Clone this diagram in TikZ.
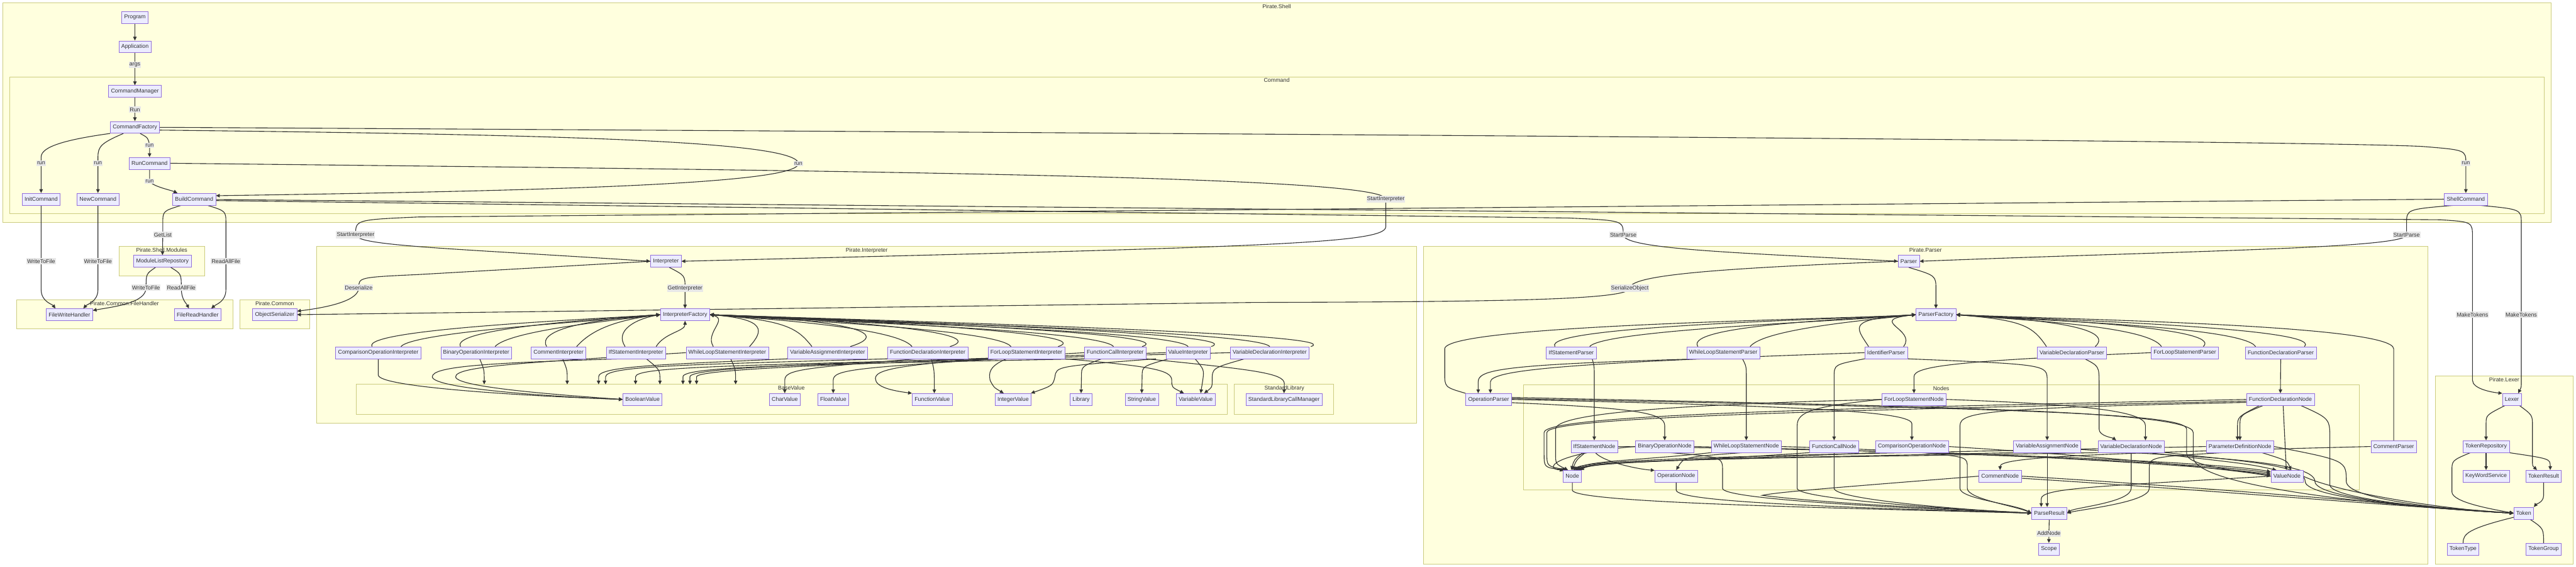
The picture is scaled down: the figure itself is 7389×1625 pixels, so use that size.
\documentclass[tikz,border=0pt]{standalone}
\usepackage{fontspec}
\setmainfont{Liberation Sans}
\usetikzlibrary{arrows.meta,calc}
\definecolor{nodef}{HTML}{ECECFF}
\definecolor{nodeb}{HTML}{9370DB}
\definecolor{clf}{HTML}{FFFFDE}
\definecolor{clb}{HTML}{CCCC80}
\definecolor{edgec}{HTML}{333333}
\definecolor{lblbg}{HTML}{E8E8E8}
\definecolor{txt}{HTML}{333333}
\pgfdeclarelayer{bg}
\pgfdeclarelayer{edges}
\pgfsetlayers{bg,edges,main}
\begin{document}
\begin{tikzpicture}[x=0.5pt,y=-0.5pt,
  nd/.style={draw=nodeb,fill=nodef,line width=0.6pt,inner xsep=3.5pt,inner ysep=0pt,minimum height=17pt,text=txt,font=\fontsize{8}{9.6}\selectfont},
  cl/.style={draw=clb,fill=clf,line width=0.8pt},
  ttl/.style={text=txt,font=\fontsize{8}{9.6}\selectfont,inner sep=0pt,anchor=north},
  e/.style={draw=edgec,line width=1pt,-{Triangle[length=5.5pt,width=5pt]}},
  ln/.style={draw=edgec,line width=1pt},
  lbl/.style={fill=lblbg,inner xsep=1pt,inner ysep=1.5pt,text=txt,font=\fontsize{8}{9.6}\selectfont}]

\begin{pgfonlayer}{bg}
\path[use as bounding box,fill=white] (0,0) rectangle (7389,1625);
\draw[cl] (8,8) rectangle (7317,638);
\draw[cl] (28,220) rectangle (7297,612);
\draw[cl] (342,707) rectangle (587,791);
\draw[cl] (47,860) rectangle (668,943);
\draw[cl] (688,860) rectangle (889,943);
\draw[cl] (909,707) rectangle (4063,1213);
\draw[cl] (1021,1102) rectangle (3520,1187);
\draw[cl] (3541,1102) rectangle (3826,1187);
\draw[cl] (4083,707) rectangle (6964,1617);
\draw[cl] (4370,1103) rectangle (6767,1405);
\draw[cl] (6985,1078) rectangle (7381,1617);
\end{pgfonlayer}

% cluster titles
\node[ttl] (tShell) at (3662,12) {Pirate.Shell};
\node[ttl] (tCommand) at (3662,224) {Command};
\node[ttl] (tModules) at (464,711) {Pirate.Shell.Modules};
\node[ttl] (tFileH) at (357,864) {Pirate.Common.FileHandler};
\node[ttl] (tCommon) at (788,864) {Pirate.Common};
\node[ttl] (tInterp) at (2486,711) {Pirate.Interpreter};
\node[ttl] (tBaseV) at (2270,1106) {BaseValue};
\node[ttl] (tStdLib) at (3684,1106) {StandardLibrary};
\node[ttl] (tParser) at (5523,711) {Pirate.Parser};
\node[ttl] (tNodes) at (5568,1107) {Nodes};
\node[ttl] (tLexer) at (7183,1082) {Pirate.Lexer};

% Shell nodes
\node[nd] (program) at (387,50) {Program};
\node[nd] (application) at (387,134) {Application};
\node[nd] (cmdmanager) at (387,262) {CommandManager};
\node[nd] (cmdfactory) at (387,365) {CommandFactory};
\node[nd] (runcmd) at (429,468) {RunCommand};
\node[nd] (initcmd) at (118,571) {InitCommand};
\node[nd] (newcmd) at (281,571) {NewCommand};
\node[nd] (buildcmd) at (557,571) {BuildCommand};
\node[nd] (shellcmd) at (7073,571) {ShellCommand};
\node[nd] (modulelist) at (466,749) {ModuleListRepostory};
\node[nd] (filewrite) at (199,902) {FileWriteHandler};
\node[nd] (fileread) at (567,902) {FileReadHandler};
\node[nd] (objser) at (788,902) {ObjectSerializer};

% Interpreter nodes
\node[nd] (interp) at (1910,749) {Interpreter};
\node[nd] (interpfac) at (1965,902) {InterpreterFactory};
\node[nd] (cmpI) at (1085,1011) {ComparisonOperationInterpreter};
\node[nd] (binI) at (1366,1011) {BinaryOperationInterpreter};
\node[nd] (comI) at (1602,1011) {CommentInterpreter};
\node[nd] (ifI) at (1824,1011) {IfStatementInterpreter};
\node[nd] (whileI) at (2086,1011) {WhileLoopStatementInterpreter};
\node[nd] (vasgI) at (2374,1011) {VariableAssignmentInterpreter};
\node[nd] (fdeclI) at (2661,1011) {FunctionDeclarationInterpreter};
\node[nd] (forI) at (2944,1011) {ForLoopStatementInterpreter};
\node[nd] (fcallI) at (3199,1011) {FunctionCallInterpreter};
\node[nd] (valI) at (3408,1011) {ValueInterpreter};
\node[nd] (vdeclI) at (3642,1011) {VariableDeclarationInterpreter};
\node[nd] (boolV) at (1843,1145) {BooleanValue};
\node[nd] (charV) at (2251,1145) {CharValue};
\node[nd] (floatV) at (2390,1145) {FloatValue};
\node[nd] (funcV) at (2674,1145) {FunctionValue};
\node[nd] (intV) at (2906,1145) {IntegerValue};
\node[nd] (lib) at (3101,1145) {Library};
\node[nd] (strV) at (3275,1145) {StringValue};
\node[nd] (varV) at (3430,1145) {VariableValue};
\node[nd] (stdlib) at (3683,1145) {StandardLibraryCallManager};

% Parser nodes
\node[nd] (parser) at (5475,749) {Parser};
\node[nd] (parserfac) at (5553,902) {ParserFactory};
\node[nd] (ifP) at (4507,1011) {IfStatementParser};
\node[nd] (whileP) at (4943,1011) {WhileLoopStatementParser};
\node[nd] (identP) at (5410,1011) {IdentifierParser};
\node[nd] (vdeclP) at (5943,1011) {VariableDeclarationParser};
\node[nd] (forP) at (6267,1011) {ForLoopStatementParser};
\node[nd] (fdeclP) at (6542,1011) {FunctionDeclarationParser};
\node[nd] (opP) at (4270,1145) {OperationParser};
\node[nd] (forN) at (5490,1145) {ForLoopStatementNode};
\node[nd] (fdeclN) at (6541,1145) {FunctionDeclarationNode};
\node[nd] (ifN) at (4573,1280) {IfStatementNode};
\node[nd] (binN) at (4775,1280) {BinaryOperationNode};
\node[nd] (whileN) at (5009,1280) {WhileLoopStatementNode};
\node[nd] (fcallN) at (5261,1280) {FunctionCallNode};
\node[nd] (cmpN) at (5484,1280) {ComparisonOperationNode};
\node[nd] (vasgN) at (5872,1280) {VariableAssignmentNode};
\node[nd] (vdeclN) at (6113,1280) {VariableDeclarationNode};
\node[nd] (paramN) at (6425,1280) {ParameterDefinitionNode};
\node[nd] (commentP) at (6866,1280) {CommentParser};
\node[nd] (nodeN) at (4510,1365) {Node};
\node[nd] (opN) at (4808,1365) {OperationNode};
\node[nd] (commentN) at (5737,1365) {CommentNode};
\node[nd] (valueN) at (6560,1365) {ValueNode};
\node[nd] (parseres) at (5878,1471) {ParseResult};
\node[nd] (scope) at (5877,1574) {Scope};

% Lexer nodes
\node[nd] (lexer) at (7205,1145) {Lexer};
\node[nd] (tokenrepo) at (7131,1280) {TokenRepository};
\node[nd] (keyword) at (7131,1365) {KeyWordService};
\node[nd] (tokenresult) at (7296,1365) {TokenResult};
\node[nd] (token) at (7239,1471) {Token};
\node[nd] (tokentype) at (7065,1574) {TokenType};
\node[nd] (tokengroup) at (7296,1574) {TokenGroup};

% free ends on the BaseValue cluster
\coordinate (bv1) at (1389,1102);
\coordinate (bv2) at (1627,1102);
\coordinate (bv3) at (1717,1102);
\coordinate (bv4) at (1737,1102);
\coordinate (bv5) at (1823,1102);
\coordinate (bv6) at (1893,1102);
\coordinate (bv7) at (1959,1102);
\coordinate (bv8) at (1979,1102);
\coordinate (bv9) at (1998,1102);
\coordinate (bv10) at (2110,1102);

\begin{pgfonlayer}{edges}
% ---------- interpreter factory fan ----------
\foreach \n/\l/\r in {cmpI/-18/65, binI/-45/54, comI/-34/52}{
  \draw[e] ($(\n.north)+(\l,0)$) .. controls +(-30,-50) and (1700,915) .. (interpfac.west);
  \draw[e] ($(\n.north)+(\r,0)$) .. controls +(40,-45) and (1760,918) .. (interpfac.west);
}
\draw[e] ($(ifI.north)+(-31,0)$) .. controls +(-30,-45) and (1820,915) .. (interpfac.west);
\draw[e] ($(ifI.north)+(58,0)$) .. controls +(25,-40) and (1965,950) .. (interpfac.south);
\draw[e] ($(whileI.north)+(-40,0)$) .. controls +(-25,-40) and (2090,915) .. (interpfac.east);
\draw[e] ($(whileI.north)+(64,0)$) .. controls +(40,-45) and (2200,915) .. (interpfac.east);
\foreach \n/\l/\r in {vasgI/-45/65, fdeclI/-45/64, forI/-44/91, fcallI/-5/77, valI/0/66, vdeclI/0/118}{
  \draw[e] ($(\n.north)+(\l,0)$) .. controls +(-40,-50) and (2260,918) .. (interpfac.east);
  \draw[e] ($(\n.north)+(\r,0)$) .. controls +(130,-40) and +(380,14) .. (interpfac.east);
}
% ---------- interpreters to values ----------
\draw[e] (cmpI.south) -- (1085,1075) .. controls (1085,1110) and (1500,1135) .. (boolV.west);
\draw[e] ($(ifI.south)+(-40,0)$) .. controls (1400,1040) and (1240,1050) .. (1240,1080) .. controls (1240,1115) and (1600,1138) .. (boolV.west);
\draw[e] (whileI.west) .. controls (1500,1040) and (1307,1050) .. (1307,1080) .. controls (1307,1110) and (1600,1132) .. (boolV.west);
\draw[e] ($(binI.south)+(10,0)$) .. controls (1389,1060) .. (bv1);
\draw[e] ($(comI.south)+(12,0)$) .. controls (1627,1060) .. (bv2);
\draw[e] (vasgI.south west) .. controls (1900,1045) and (1717,1050) .. (1717,1080) -- (bv3);
\draw[e] (fdeclI.south west) .. controls (2000,1045) and (1737,1048) .. (1737,1080) -- (bv4);
\draw[e] (forI.south west) .. controls (2100,1048) and (1823,1052) .. (1823,1080) -- (bv5);
\draw[e] ($(ifI.south)+(30,0)$) .. controls (1893,1060) .. (bv6);
\draw[e] (fcallI.south west) .. controls (2300,1045) and (1959,1050) .. (1959,1080) -- (bv7);
\draw[e] (valI.west) .. controls (2400,1040) and (1979,1052) .. (1979,1080) -- (bv8);
\draw[e] (vdeclI.west) .. controls (2600,1035) and (1998,1055) .. (1998,1080) -- (bv9);
\draw[e] ($(whileI.south)+(10,0)$) .. controls (2110,1060) .. (bv10);
\draw[e] ($(fdeclI.south)+(-30,0)$) .. controls (2300,1055) and (2251,1060) .. (2251,1090) -- (charV.north);
\draw[e] ($(forI.south)+(-80,0)$) .. controls (2450,1055) and (2390,1060) .. (2390,1090) -- (floatV.north);
\draw[e] (fcallI.west) .. controls (2600,1040) and (2511,1055) .. (2511,1085) .. controls (2511,1110) and (2560,1120) .. (funcV.north west);
\draw[e] ($(fdeclI.south)+(10,0)$) .. controls (2680,1060) .. ($(funcV.north)+(6,0)$);
\draw[e] ($(forI.south)+(-57,0)$) .. controls (2836,1050) and (2836,1070) .. (2840,1090) .. controls (2850,1110) .. ($(intV.north)+(-27,0)$);
\draw[e] ($(valI.south)+(-92,0)$) .. controls (3030,1050) .. (3026,1080) .. controls (3020,1105) .. ($(intV.north)+(51,0)$);
\draw[e] ($(fcallI.south)+(-39,0)$) .. controls (3102,1050) .. (3102,1080) -- (lib.north);
\draw[e] ($(valI.south)+(-56,0)$) .. controls (3276,1050) .. (3276,1080) -- (strV.north);
\draw[e] ($(valI.south)+(20,0)$) .. controls (3454,1060) .. (3450,1090) -- ($(varV.north)+(14,0)$);
\draw[e] ($(vdeclI.south)+(-72,0)$) .. controls (3477,1055) .. (3477,1090) .. controls (3477,1110) .. ($(varV.north)+(24,0)$);
\draw[e] (forI.south east) .. controls (3300,1050) and (3361,1060) .. (3361,1090) .. controls (3361,1110) .. ($(varV.north)+(-34,0)$);
\draw[e] (fcallI.south east) .. controls (3600,1060) and (3684,1070) .. (3684,1100) -- (stdlib.north);

% ---------- parser factory fan ----------
\foreach \n/\l/\r in {ifP/-47/53, whileP/-73/77, identP/-50/50}{
  \draw[e] ($(\n.north)+(\l,0)$) .. controls +(-40,-60) and (5300,915) .. (parserfac.west);
  \draw[e] ($(\n.north)+(\r,0)$) .. controls +(40,-50) and (5350,918) .. (parserfac.west);
}
\foreach \n/\l/\r in {vdeclP/-73/67, forP/-67/53, fdeclP/-72/68}{
  \draw[e] ($(\n.north)+(\l,0)$) .. controls +(-40,-60) and (5800,918) .. (parserfac.east);
  \draw[e] ($(\n.north)+(\r,0)$) .. controls +(60,-55) and (5850,915) .. (parserfac.east);
}
\draw[e] (opP.north west) .. controls (4144,1110) .. (4144,1070) -- (4144,1000) .. controls (4144,930) and (5300,915) .. (parserfac.west);
\draw[e] (commentP.north) -- (6866,1000) .. controls (6866,930) and (5900,915) .. (parserfac.east);
% ---------- parsers to nodes ----------
\draw[e] ($(whileP.south)+(-65,0)$) .. controls (4300,1045) and (4240,1060) .. (4240,1095) -- ($(opP.north)+(-30,0)$);
\draw[e] (identP.west) .. controls (4500,1040) and (4275,1060) .. (4275,1095) -- ($(opP.north)+(5,0)$);
\draw[e] ($(ifP.south)+(60,0)$) .. controls (4573,1050) .. (4573,1080) -- (ifN.north);
\draw[e] ($(whileP.south)+(55,0)$) .. controls (5009,1050) .. (5009,1080) -- (whileN.north);
\draw[e] (identP.south west) .. controls (5261,1045) .. (5261,1080) -- (fcallN.north);
\draw[e] (identP.south east) .. controls (5872,1045) .. (5872,1090) -- (vasgN.north);
\draw[e] ($(vdeclP.south)+(37,0)$) .. controls (6021,1050) .. (6021,1100) -- (6021,1230) .. controls (6021,1250) and (6060,1255) .. ($(vdeclN.north)+(-43,0)$);
\draw[e] (forN.east) .. controls (6000,1160) and (6154,1180) .. (6154,1220) -- ($(vdeclN.north)+(41,0)$);
\draw[e] (forP.west) .. controls (5600,1035) and (5490,1050) .. (5490,1080) -- (forN.north);
\draw[e] (fdeclP.south) -- (fdeclN.north);
\draw[e] (opP.-8) .. controls (4700,1170) and (4775,1185) .. (4775,1220) -- (binN.north);
\draw[e] (opP.east) .. controls (5200,1165) and (5484,1180) .. (5484,1215) -- (cmpN.north);
\draw[e] (opP.5) .. controls (5500,1165) and (6291,1175) .. (6291,1240) -- (6291,1310) .. controls (6291,1400) and (6900,1455) .. (token.west);
\draw[e] (opP.2) .. controls (5800,1172) and (6272,1185) .. (6272,1230) -- (6272,1300) .. controls (6272,1340) and (6450,1350) .. (valueN.west);
% function declaration node
\draw[e] ($(fdeclN.south)+(-50,0)$) .. controls (6425,1190) .. (6425,1220) -- (paramN.north);
\draw[e] ($(fdeclN.south)+(-60,0)$) .. controls (6418,1195) .. (6418,1225) -- ($(paramN.north)+(-7,0)$);
\draw[e] ($(fdeclN.south)+(8,0)$) -- ($(valueN.north)+(-2,0)$);
\draw[e] ($(paramN.south)+(63,0)$) .. controls (6560,1320) .. ($(valueN.north)+(12,0)$);
\draw[e] ($(fdeclN.south)+(59,0)$) .. controls (6683,1200) .. (6683,1260) -- (6683,1390) .. controls (6683,1430) and (7000,1460) .. (token.west);
\draw[e] (paramN.east) .. controls (6730,1320) .. (6730,1380) .. controls (6730,1430) and (7000,1460) .. (token.west);
\draw[e] (valueN.east) .. controls (6700,1410) and (7000,1460) .. (token.west);
\draw[e] (commentN.east) .. controls (6300,1395) and (6800,1440) .. (token.west);
\draw[e] ($(commentN.east)+(0,6)$) .. controls (6300,1402) and (6800,1446) .. (token.west);
\draw[e] (vdeclN.-10) .. controls (6400,1320) and (6612,1330) .. (6612,1380) .. controls (6612,1430) and (7000,1460) .. (token.west);
\draw[e] (vasgN.-5) .. controls (6300,1310) and (6640,1320) .. (6640,1380) .. controls (6640,1430) and (7000,1460) .. (token.west);
\draw[e] (commentP.west) .. controls (6000,1300) and (5737,1310) .. (commentN.north);
% to Node
\draw[e] (fdeclN.west) .. controls (5200,1172) and (4429,1190) .. (4429,1240) -- (4429,1300) .. controls (4429,1340) .. (nodeN.140);
\draw[e] ($(fdeclN.west)+(0,5)$) .. controls (5200,1178) and (4437,1196) .. (4437,1240) -- (4437,1300) .. controls (4437,1336) .. (nodeN.134);
\draw[e] (forN.west) .. controls (4800,1160) and (4462,1185) .. (4462,1230) -- (4462,1300) .. controls (4462,1330) .. (nodeN.125);
\draw[e] ($(ifN.south)+(-33,0)$) .. controls (4515,1318) .. (nodeN.100);
\draw[e] ($(ifN.south)+(-26,0)$) .. controls (4522,1318) .. (nodeN.90);
\draw[e] (binN.west) .. controls (4450,1300) and (4430,1345) .. (nodeN.145);
\draw[e] (whileN.south west) .. controls (4700,1320) and (4560,1320) .. (nodeN.75);
\draw[e] (fcallN.south west) .. controls (4800,1325) and (4560,1325) .. (nodeN.62);
\draw[e] (cmpN.south west) .. controls (4900,1320) and (4570,1320) .. (nodeN.52);
\draw[e] (vasgN.south west) .. controls (5000,1315) and (4580,1318) .. (nodeN.44);
\draw[e] (vdeclN.south west) .. controls (5200,1312) and (4590,1315) .. (nodeN.38);
\draw[e] (paramN.west) .. controls (5400,1300) and (4560,1310) .. (nodeN.82);
\draw[e] (ifN.-80) .. controls (4600,1325) and (4700,1345) .. (opN.165);
\draw[e] (whileN.-120) .. controls (4830,1310) .. (opN.north);
% to ValueNode
\draw[e] (ifN.east) .. controls (5800,1295) and (6400,1330) .. (valueN.165);
\draw[e] (binN.east) .. controls (5800,1300) and (6400,1335) .. (valueN.170);
\draw[e] (whileN.east) .. controls (5800,1302) and (6400,1340) .. (valueN.175);
\draw[e] (cmpN.east) .. controls (6000,1305) and (6400,1345) .. (valueN.west);
\draw[e] (vdeclN.-20) .. controls (6450,1330) .. (valueN.150);
% to ParseResult
\draw[e] (nodeN.south) -- (4510,1405) .. controls (4510,1440) and (5200,1455) .. (parseres.west);
\draw[e] (opN.south) -- (4808,1405) .. controls (4808,1440) and (5300,1455) .. (parseres.west);
\draw[e] (binN.-50) .. controls (4941,1310) .. (4941,1350) -- (4941,1400) .. controls (4941,1430) and (5400,1455) .. (parseres.west);
\draw[e] (forN.west) .. controls (5200,1165) and (5155,1180) .. (5155,1220) -- (5155,1400) .. controls (5155,1430) and (5600,1460) .. (parseres.west);
\draw[e] (fcallN.south) -- (5261,1400) .. controls (5261,1430) and (5600,1460) .. (parseres.west);
\draw[e] (fdeclN.185) .. controls (5700,1170) and (5622,1180) .. (5622,1220) -- (5622,1400) .. controls (5622,1430) and (5780,1445) .. (parseres.west);
\draw[e] (cmpN.-30) .. controls (5643,1310) .. (5643,1340) -- (5643,1400) .. controls (5643,1430) and (5780,1450) .. (parseres.west);
\draw[e] (vasgN.south) -- ($(parseres.north)+(-6,0)$);
\draw[e] (vdeclN.south) -- (6113,1400) .. controls (6113,1440) and (5950,1455) .. (parseres.east);
\draw[e] (paramN.-160) .. controls (6165,1310) .. (6165,1345) -- (6165,1400) .. controls (6165,1440) and (5970,1460) .. (parseres.east);
\draw[e] (valueN.west) .. controls (6000,1395) and (5855,1400) .. (5855,1430) -- ($(parseres.north)+(-23,0)$);
\draw[e] (commentN.west) .. controls (5300,1395) and (5100,1410) .. (5055,1420) .. controls (5300,1450) and (5700,1462) .. (parseres.west);

% ---------- lexer ----------
\draw[e] ($(lexer.south)+(-20,0)$) .. controls (7131,1190) .. (7131,1215) -- (tokenrepo.north);
\draw[e] ($(lexer.south)+(22,0)$) .. controls (7264,1190) .. (7264,1220) -- (7264,1320) .. controls (7264,1335) .. ($(tokenresult.north)+(-19,0)$);
\draw[e] (tokenrepo.south) -- (keyword.north);
\draw[e] (tokenrepo.-15) .. controls (7315,1315) .. ($(tokenresult.north)+(19,0)$);
\draw[e] ($(tokenrepo.south)+(-45,0)$) .. controls (7033,1320) .. (7033,1350) -- (7033,1410) .. controls (7033,1440) and (7150,1460) .. (token.west);
\draw[e] (tokenresult.south) -- (7296,1420) .. controls (7296,1440) and (7275,1445) .. (token.north east);
\draw[ln] ($(token.south)+(-28,-6)$) .. controls (7080,1515) and (7065,1530) .. (tokentype.north);
\draw[ln] ($(token.south)+(18,0)$) .. controls (7296,1515) .. (tokengroup.north);

% ---------- shell ----------
\draw[e] (program) -- (application);
\draw[e] (application.south) -- (387,186) node[lbl] (lArgs) {args} -- (cmdmanager.north);
\draw[e] (cmdmanager.south) -- (387,314) node[lbl] (lRun) {Run} -- (cmdfactory.north);
\draw[e] (cmdfactory.south west) .. controls (190,400) and (118,420) .. (118,450) -- (118,468) node[lbl] (lRunInit) {run} -- (initcmd.north);
\draw[e] ($(cmdfactory.south)+(-33,0)$) .. controls (290,410) and (281,420) .. (281,450) -- (281,468) node[lbl] (lRunNew) {run} -- (newcmd.north);
\draw[e] ($(cmdfactory.south)+(15,0)$) .. controls (425,395) .. (429,417) node[lbl] (lRunRun) {run} -- (runcmd.north);
\draw[e] (runcmd.south) -- (429,520) node[lbl] (lRunBuild) {run} .. controls (440,535) and (490,545) .. ($(buildcmd.north)+(-48,0)$);
\draw[e] (initcmd.south) -- (118,749) node[lbl] (lW1) {WriteToFile} -- (118,830) .. controls (118,865) and (150,872) .. ($(filewrite.north)+(-40,0)$);
\draw[e] (newcmd.south) -- (281,749) node[lbl] (lW2) {WriteToFile} -- (281,830) .. controls (281,865) and (250,872) .. ($(filewrite.north)+(40,0)$);
\draw[e] ($(modulelist.south)+(-20,0)$) .. controls (419,785) .. (419,825) node[lbl] (lW3) {WriteToFile} .. controls (419,870) and (320,880) .. ($(filewrite.east)+(0,-12)$);
\draw[e] ($(modulelist.south)+(24,0)$) .. controls (520,785) .. (520,825) node[lbl] (lR1) {ReadAllFile} .. controls (520,860) and (535,870) .. ($(fileread.north)+(-25,0)$);
\draw[e] ($(buildcmd.south)+(-37,0)$) .. controls (467,605) .. (467,640) -- (467,673) node[lbl] (lGet) {GetList} -- (modulelist.north);
\draw[e] ($(buildcmd.south)+(38,0)$) .. controls (648,605) .. (648,640) -- (648,749) node[lbl] (lR2) {ReadAllFile} -- (648,830) .. controls (648,865) and (620,872) .. ($(fileread.north)+(39,0)$);
\draw[e] (cmdfactory.east) .. controls (4000,385) and (6700,405) .. (6950,420) .. controls (7073,430) .. (7073,468) node[lbl] (lRunShell) {run} -- (shellcmd.north);
\draw[e] ($(cmdfactory.east)+(0,8)$) .. controls (1500,385) and (2290,400) .. (2290,469) node[lbl] (lRunLoop) {run} .. controls (2290,530) and (1500,548) .. ($(buildcmd.east)+(0,-10)$);
\draw[e] (runcmd.east) .. controls (2500,490) and (3975,505) .. (3975,571) node[lbl] (lSI1) {StartInterpreter} -- (3975,650) .. controls (3975,700) and (3600,708) .. (interp.east);
\draw[e] (shellcmd.west) -- (1200,622) .. controls (1020,630) .. (1020,673) node[lbl] (lSI2) {StartInterpreter} .. controls (1020,705) and (1300,712) .. (interp.west);
\draw[e] ($(buildcmd.east)+(0,4)$) -- (4500,625) .. controls (4656,632) .. (4656,673) node[lbl] (lSP1) {StartParse} .. controls (4656,715) and (5000,725) .. (parser.west);
\draw[e] ($(buildcmd.east)+(0,1)$) -- (7000,630) .. controls (7092,636) .. (7092,680) -- (7092,902) node[lbl] (lMT1) {MakeTokens} -- (7092,1090) .. controls (7092,1115) and (7150,1125) .. (lexer.north west);
\draw[e] ($(shellcmd.south)+(-35,0)$) .. controls (6903,600) .. (6903,640) -- (6903,673) node[lbl] (lSP2) {StartParse} .. controls (6903,712) and (6300,718) .. (parser.east);
\draw[e] ($(shellcmd.south)+(40,0)$) .. controls (7232,600) .. (7232,640) -- (7232,902) node[lbl] (lMT2) {MakeTokens} -- (7232,1095) .. controls (7232,1110) .. ($(lexer.north)+(18,0)$);
\draw[e] (interp.west) -- (1200,787) .. controls (1029,795) .. (1029,825) node[lbl] (lDes) {Deserialize} .. controls (1029,860) and (950,880) .. ($(objser.east)+(0,-10)$);
\draw[e] ($(interp.south)+(10,0)$) .. controls (1965,790) .. (1965,826) node[lbl] (lGI) {GetInterpreter} -- (interpfac.north);
\draw[e] (parser.south) .. controls (5553,790) .. (5553,830) -- (parserfac.north);
\draw[e] (parser.west) .. controls (4900,770) and (4675,790) .. (4675,826) node[lbl] (lSO) {SerializeObject} .. controls (4675,860) and (4300,865) .. (3600,867) -- (objser.east);
\draw[e] (parseres.south) -- (5877,1529) node[lbl] (lAdd) {AddNode} -- (scope.north);
\end{pgfonlayer}
\end{tikzpicture}
\end{document}
